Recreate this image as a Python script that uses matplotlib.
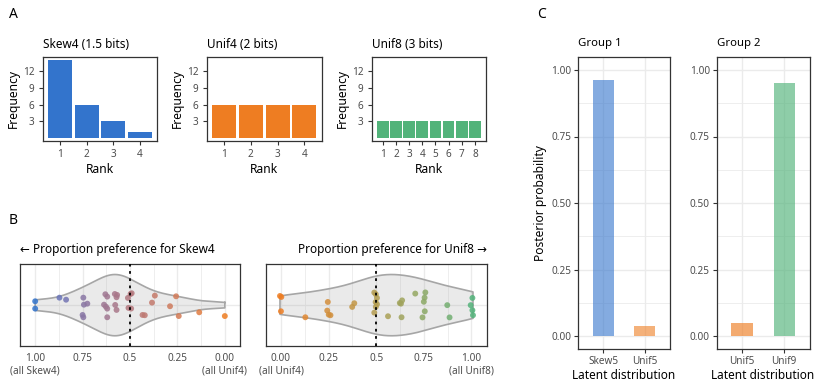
import matplotlib
matplotlib.use("Agg")
import matplotlib.pyplot as plt
import numpy as np

plt.rcParams["font.family"] = ["Noto Sans", "DejaVu Sans"]

# ---- data -------------------------------------------------------------
ranks4 = [1, 2, 3, 4]
ranks8 = [1, 2, 3, 4, 5, 6, 7, 8]
skew4_freq = [14, 6, 3, 1]
unif4_freq = [6, 6, 6, 6]
unif8_freq = [3, 3, 3, 3, 3, 3, 3, 3]

# proportion preference for Skew4 (vs Unif4), with vertical jitter
skew4_pref = [1.00, 1.00, 0.872, 0.837, 0.746, 0.743, 0.725, 0.75, 0.746,
              0.63, 0.62, 0.637, 0.627, 0.62, 0.62, 0.58, 0.568, 0.571,
              0.578, 0.571, 0.511, 0.508, 0.497, 0.494, 0.491, 0.434,
              0.422, 0.384, 0.369, 0.289, 0.257, 0.243, 0.135, 0.0]
skew4_jit = [0.057, -0.051, 0.11, 0.08, 0.11, 0.007, 0.022, -0.144, -0.178,
             0.16, 0.125, 0.007, -0.022, -0.051, -0.178, 0.164, 0.15, 0.116,
             0.003, -0.07, 0.106, -0.04, 0.164, -0.05, 0.175, -0.144,
             -0.148, 0.037, 0.14, -0.016, 0.13, -0.16, -0.105, -0.16]

# proportion preference for Unif8 (vs Unif4)
unif8_pref = [-0.005, 0.002, 0.0, 0.128, 0.246, 0.243, 0.251, 0.26, 0.385,
              0.374, 0.49, 0.498, 0.504, 0.497, 0.504, 0.498, 0.49, 0.562,
              0.624, 0.636, 0.63, 0.633, 0.705, 0.758, 0.754, 0.75, 0.755,
              0.743, 0.873, 0.885, 1.005, 0.996, 1.005, 1.008]
unif8_jit = [0.135, 0.12, -0.09, -0.178, 0.047, -0.08, -0.14, -0.148, 0.028,
             -0.026, 0.185, 0.16, 0.106, 0.045, 0.013, -0.025, -0.11, -0.163,
             0.032, 0.07, 0.022, -0.178, 0.17, 0.187, 0.11, 0.05, -0.09,
             -0.18, 0.0, -0.18, 0.106, 0.0, -0.075, -0.148]

group1_cats = ["Skew5", "Unif5"]
group1_post = [0.963, 0.037]
group2_cats = ["Unif5", "Unif9"]
group2_post = [0.05, 0.95]

BLUE = "#3374CC"
ORANGE = "#EE7D22"
GREEN = "#52B37A"
FRAME = "#333333"
TICKLAB = "#4D4D4D"
GRID = "#EBEBEB"

W, H = 814, 383


# ---- helpers ----------------------------------------------------------
def px_axes(fig, x0, y0, x1, y1):
    return fig.add_axes([x0 / W, 1 - y1 / H, (x1 - x0) / W, (y1 - y0) / H])


def style(ax, ticklen=3, pad=2):
    for s in ax.spines.values():
        s.set_color(FRAME)
        s.set_linewidth(0.9)
    ax.tick_params(length=ticklen, width=0.8, color=FRAME,
                   labelcolor=TICKLAB, labelsize=7.2, pad=pad)


def hex_rgb(h):
    h = h.lstrip("#")
    return np.array([int(h[i:i + 2], 16) for i in (0, 2, 4)]) / 255.0


_M = np.array([[0.4124, 0.3576, 0.1805],
               [0.2126, 0.7152, 0.0722],
               [0.0193, 0.1192, 0.9505]])
_WP = np.array([0.95047, 1.0, 1.08883])


def to_lab(rgb):
    lin = np.where(rgb <= 0.04045, rgb / 12.92, ((rgb + 0.055) / 1.055) ** 2.4)
    t = (_M @ lin) / _WP
    f = np.where(t > 0.008856, np.cbrt(t), 7.787 * t + 16 / 116)
    return np.array([116 * f[1] - 16, 500 * (f[0] - f[1]), 200 * (f[1] - f[2])])


def from_lab(lab):
    fy = (lab[0] + 16) / 116
    f = np.array([fy + lab[1] / 500, fy, fy - lab[2] / 200])
    t = np.where(f > 0.2069, f ** 3, (f - 16 / 116) / 7.787) * _WP
    lin = np.linalg.solve(_M, t)
    rgb = np.where(lin <= 0.0031308, 12.92 * lin,
                   1.055 * np.clip(lin, 0, None) ** (1 / 2.4) - 0.055)
    return np.clip(rgb, 0, 1)


def lab_gradient(c0, c1, vals):
    a, b = to_lab(hex_rgb(c0)), to_lab(hex_rgb(c1))
    return [from_lab(a + (b - a) * np.clip(v, 0, 1)) for v in vals]


def violin(ax, x):
    x = np.asarray(x)
    n = len(x)
    iqr = np.subtract(*np.percentile(x, [75, 25]))
    bw = 0.9 * min(x.std(ddof=1), iqr / 1.34) * n ** (-0.2)
    grid = np.linspace(x.min(), x.max(), 512)
    dens = np.exp(-0.5 * ((grid[:, None] - x[None, :]) / bw) ** 2).sum(1)
    half = 0.45 * dens / dens.max()
    ax.fill_between(grid, -half, half, facecolor="#999999", alpha=0.2,
                    edgecolor="none", zorder=2)
    ax.plot(np.r_[grid, grid[::-1], grid[0]],
            np.r_[half, -half[::-1], half[0]],
            color="#A6A6A6", lw=1.2, zorder=3)


def rank_panel(fig, x0, x1, ranks, freq, color, title):
    ax = px_axes(fig, x0, 56.7, x1, 140.7)
    ax.bar(ranks, freq, width=0.9, color=color, zorder=2)
    n = len(ranks)
    ax.set_xlim(0.55 - 0.05 * (n - 0.1), n + 0.45 + 0.05 * (n - 0.1))
    ax.set_ylim(-0.47, 14.56)
    ax.set_xticks(ranks)
    ax.set_yticks([3, 6, 9, 12])
    ax.set_xlabel("Rank", fontsize=8.7, labelpad=2)
    ax.set_ylabel("Frequency", fontsize=8.7, labelpad=2)
    ax.set_title(title, fontsize=8.5, loc="left", pad=6)
    style(ax, pad=3)
    return ax


def pref_panel(fig, x0, x1, xs, jit, colors, xlim, labels, title, loc):
    ax = px_axes(fig, x0, 264.3, x1, 346)
    ax.set_xticks([0, 0.25, 0.5, 0.75, 1])
    ax.set_xticklabels(labels)
    ax.set_xticks(np.arange(0.125, 1, 0.25), minor=True)
    ax.set_yticks([0])
    ax.grid(True, which="major", color=GRID, lw=1.0, zorder=0)
    ax.grid(True, which="minor", axis="x", color=GRID, lw=0.6, zorder=0)
    ax.set_axisbelow(True)
    violin(ax, xs)
    ax.scatter(xs, jit, s=18, c=colors, alpha=0.85, edgecolors="none",
               zorder=4)
    ax.axvline(0.5, color="black", ls=(0, (1.5, 2.5)), lw=1.3, zorder=5)
    ax.set_xlim(*xlim)
    ax.set_ylim(-0.6, 0.6)
    style(ax, ticklen=0, pad=5)
    ax.tick_params(axis="y", labelleft=False, length=0)
    ax.tick_params(axis="x", which="minor", length=0)
    ax.set_title(title, fontsize=8.5, loc=loc, pad=8)
    return ax


def post_panel(fig, x0, x1, cats, vals, colors, alpha, title, ylabel):
    ax = px_axes(fig, x0, 56.7, x1, 349.3)
    ax.bar(cats, vals, width=0.5, color=colors, alpha=alpha, zorder=2)
    ax.set_xlim(-0.6, 1.6)
    ax.set_ylim(-0.05, 1.05)
    ax.set_yticks([0, 0.25, 0.5, 0.75, 1.0])
    ax.set_yticklabels(["0.00", "0.25", "0.50", "0.75", "1.00"])
    ax.set_yticks(np.arange(0.125, 1, 0.25), minor=True)
    ax.grid(True, which="major", color=GRID, lw=1.0, zorder=0)
    ax.grid(True, which="minor", axis="y", color=GRID, lw=0.6, zorder=0)
    ax.set_axisbelow(True)
    style(ax)
    ax.tick_params(which="minor", length=0)
    ax.set_xlabel("Latent distribution", fontsize=8.5, labelpad=1)
    if ylabel:
        ax.set_ylabel("Posterior probability", fontsize=8.7, labelpad=3)
    ax.set_title(title, fontsize=8.2, loc="left", pad=8)
    return ax


def main():
    fig = plt.figure(figsize=(W / 100, H / 100), dpi=100)

    # panel A
    rank_panel(fig, 42.7, 157, ranks4, skew4_freq, BLUE, "Skew4 (1.5 bits)")
    rank_panel(fig, 206.7, 321.7, ranks4, unif4_freq, ORANGE, "Unif4 (2 bits)")
    rank_panel(fig, 371.7, 486, ranks8, unif8_freq, GREEN, "Unif8 (3 bits)")

    # panel B
    pref_panel(fig, 20, 240, skew4_pref, skew4_jit,
               lab_gradient(ORANGE, BLUE, skew4_pref), (1.08, -0.08),
               ["0.00\n(all Unif4)", "0.25", "0.5", "0.75",
                "1.00\n(all Skew4)"],
               "\u2190 Proportion preference for Skew4", "left")
    pref_panel(fig, 265.7, 486.7, unif8_pref, unif8_jit,
               lab_gradient(ORANGE, GREEN, unif8_pref), (-0.08, 1.08),
               ["0.00\n(all Unif4)", "0.25", "0.5", "0.75",
                "1.00\n(all Unif8)"],
               "Proportion preference for Unif8 \u2192", "right")

    # panel C
    post_panel(fig, 578.3, 669.7, group1_cats, group1_post,
               [BLUE, ORANGE], 0.6, "Group 1", True)
    post_panel(fig, 716.7, 809.5, group2_cats, group2_post,
               [ORANGE, GREEN], 0.65, "Group 2", False)

    for lab, x, y in [("A", 9, 14), ("B", 9, 220), ("C", 537, 14)]:
        fig.text(x / W, 1 - y / H, lab, fontsize=10, ha="left", va="center")

    fig.savefig("out.png", dpi=100)
    return 0


if __name__ == "__main__":
    raise SystemExit(main())
